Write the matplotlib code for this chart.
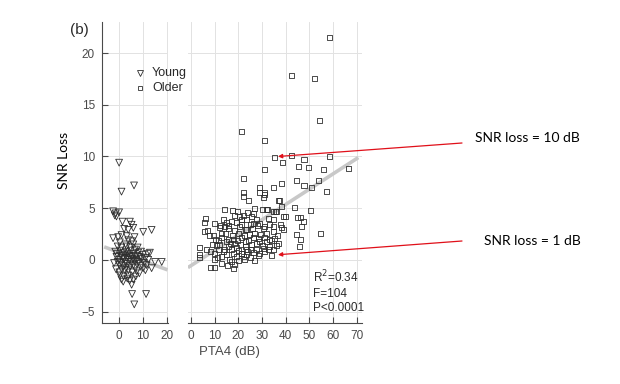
import matplotlib
matplotlib.use("Agg")
import matplotlib.pyplot as plt

plt.rcParams["font.family"] = ["Liberation Sans", "DejaVu Sans"]

# Young listeners (left panel)
young_pta = [0.1, 1.1, 6.3, -2.4, -1.3, 0.1, -1.0, -1.7, 1.5, 4.6, 5.3, 3.9, 6.0,
             10.1, 13.6, -2.4, -0.3, 1.1, 0.4, 3.9, 3.2, 6.0, 6.7,
             12.9, 12.2, 15.0, 17.8, 13.6, 1.1, 1.8, 6.0, 5.3, 5.5, 11.3, 6.4,
             10.1, 7.4, 3.9, 0.4, 2.5,
             -1.5, -1.0, -0.5, -0.8, 0.0, 0.3, 0.5, 0.8, 1.0, 1.2, 1.5, 1.8, 2.0, 2.2,
             2.5, 2.7, 3.0, 3.0, 3.3, 3.5, 3.8, 4.0, 4.2, 4.5, 4.7, 5.0, 5.0, 5.3, 5.5,
             5.8, 6.0, 6.2, 6.5, 6.8, 7.0, 7.3, 7.5, 8.0, 8.3, 8.7, 9.0, 9.5, 10.0,
             10.5, 11.0, 11.5, -2.0, -1.2, 0.2, 2.0, 3.5, 4.5, 7.0, 8.5, 1.0, 2.8, 4.8,
             5.5, -0.5, 7.8, 9.2, 12.0, 11.0, 3.3, 2.2, 6.5]
young_snr = [9.4, 6.6, 7.2, 4.7, 4.5, 4.6, 4.2, 4.3, 3.7, 3.7, 3.4, 2.9, 3.1,
             2.7, 2.9, 2.1, 2.2, 2.4, 1.7, 1.9, 1.3, 1.5, 1.0,
             0.7, 0.0, -0.2, -0.2, -0.8, -1.9, -2.1, -1.9, -2.4, -3.3, -3.3, -4.3,
             -0.8, -1.1, -1.5, -1.5, -1.0,
             0.8, 0.3, -0.2, 0.6, 0.0, -0.5, 0.9, 0.4, -0.3, -0.9, 0.2, 0.7, -0.6, 0.1,
             0.5, -0.2, 0.8, -0.8, 0.2, -0.4, 0.6, -1.0, 0.0, 0.4, -0.6, 0.9, -0.2, 0.3, -1.2,
             0.1, -0.5, 0.6, -0.1, -0.8, 0.4, 0.0, -0.4, 0.7, -0.2, 0.3, -0.6, 0.1, 0.5,
             -0.3, 0.2, -0.5, -0.3, -0.9, -1.2, -1.6, -1.8, -2.0, -1.6, -1.3, 1.2, 1.5, 1.2,
             1.8, 1.3, 1.2, 0.8, 0.6, -1.0, 2.3, 3.0, 2.2]

# Older listeners (right panel)
older_pta = [58.4, 42.3, 52.2, 54.1, 21.5, 30.9,
             35.4, 42.3, 58.5, 38.5, 47.7, 45.4, 49.7, 56.1, 66.7, 31.1,
             22.1, 38.4, 44.6, 47.7, 54.0, 50.9, 57.1, 34.7,
             22.1, 22.2, 24.1, 29.1, 29.1, 30.9, 30.5,
             37.3, 38.4, 43.6, 50.3, 14.1, 30.0, 32.4, 35.6, 34.7, 39.8, 44.9, 46.4, 47.4, 46.5,
             5.9, 5.6, 5.6, 7.7, 9.4, 54.6, 44.6, 46.3, 45.7, 33.9,
             3.4, 3.4, 3.4, 8.4, 9.7, 17.9, 9.7,
             19.8, 18.4, 20.5, 13.5, 14.9, 17.0, 12.1, 14.2, 15.6, 12.8,
             11.4, 10.7, 11.7, 10.0, 12.8, 13.5, 15.6, 17.0, 18.4, 19.8, 21.2, 22.6,
             16.3, 19.1, 21.2, 23.3, 22.6,
             26.3, 25.6, 27.7, 31.9, 32.6, 34.7, 38.9,
             22.1, 23.5, 21.4, 24.9, 22.8, 29.1, 31.2, 33.3, 34.7, 37.6, 38.3, 38.9, 34.7,
             24.2, 26.3, 28.4, 29.1, 31.2, 31.9, 34.1, 35.4, 36.2, 33.3, 30.5, 27.7, 24.9,
             22.8, 21.4, 23.5, 29.1, 31.2, 36.8, 36.2,
             10.5, 12.0, 13.0, 14.0, 14.5, 15.0, 16.0, 16.5, 17.5, 18.0, 18.5, 19.0, 20.0,
             20.0, 20.5, 21.0, 22.0, 23.0, 23.5, 24.0, 24.5, 25.5, 26.0, 26.5, 27.0, 27.5,
             28.0, 28.5, 29.5, 30.0, 30.5, 31.0, 32.0, 32.5, 33.0, 35.0, 36.5, 37.0, 11.0,
             13.0, 15.5, 17.0, 18.5, 20.0, 25.0, 27.0, 12.5, 16.0, 17.5, 19.0, 21.5, 24.0,
             26.5, 27.0, 18.0, 15.0, 9.0, 8.0, 6.5, 10.0, 7.0]
older_snr = [21.5, 17.8, 17.5, 13.5, 12.4, 11.5,
             9.9, 10.1, 10.0, 9.4, 9.7, 9.0, 8.9, 8.7, 8.8, 8.7,
             7.9, 7.4, 7.7, 7.2, 7.7, 7.0, 6.6, 7.0,
             6.5, 6.1, 5.7, 7.0, 6.5, 6.5, 6.0,
             5.7, 5.2, 5.1, 4.8, 4.9, 4.9, 4.9, 4.7, 4.7, 4.2, 4.1, 4.1, 3.7, 3.2,
             4.0, 3.6, 2.7, 2.4, 2.4, 2.6, 2.5, 2.0, 1.3, 0.4,
             1.2, 0.55, 0.26, -0.7, -0.7, -0.8, 0.0,
             4.7, 4.3, 4.2, 3.9, 3.6, 3.7, 3.1, 3.2, 3.0, 2.6,
             1.9, 1.4, 1.0, 0.6, 0.3, 0.8, 1.3, 1.0, 1.6, 1.9, 2.2, 2.4,
             0.0, 0.3, 0.6, 1.0, 0.0,
             4.5, 4.2, 3.9, 4.9, 4.0, 3.9, 4.2,
             4.3, 3.9, 3.4, 3.4, 2.9, 3.5, 3.2, 3.4, 3.2, 3.4, 3.1, 2.9, 2.7,
             1.9, 2.2, 2.1, 1.8, 2.2, 1.8, 1.9, 2.1, 1.4, 1.3, 1.1, 1.0, 1.0,
             1.3, 0.6, 0.5, 0.6, 6.3, 5.7, 4.7,
             2.0, 1.5, 2.2, 1.0, 2.6, 0.5, 2.0, 1.6, 2.4, 0.6, 2.8, 1.2, 0.9,
             2.6, 3.2, 1.5, 0.3, 1.8, 2.9, 0.8, 2.5, 1.5, 3.0, 0.7, 2.6, 1.6,
             3.3, 0.4, 2.5, 1.4, 3.0, 0.8, 2.6, 1.0, 2.0, 1.0, 2.4, 1.6, 0.2,
             -0.3, -0.5, -0.2, -0.4, -0.1, 0.2, -0.1, 3.3, 3.3, 4.8, 3.6, 3.9, 4.6,
             3.5, 5.0, 2.0, 1.8, 1.5, 0.8, 1.0, 3.5, 2.8]

# regression fits (end points)
young_fit_x = [-5.4, 19.5]
young_fit_y = [1.2, -0.9]
older_fit_x = [-0.7, 70.0]
older_fit_y = [-0.65, 9.8]

stats_text = "R$^2$=0.34\nF=104\nP<0.0001"

W, H = 620, 384
fig = plt.figure(figsize=(W / 100, H / 100), dpi=100)
fig.patch.set_facecolor("white")

ax1 = fig.add_axes([102 / W, 1 - 323 / H, 66 / W, 301 / H])
ax2 = fig.add_axes([188 / W, 1 - 323 / H, 174 / W, 301 / H])

tick_col = "#4a4a4a"
spine_col = "#4a4a4a"
grid_col = "#e2e2e2"

for ax in (ax1, ax2):
    ax.set_ylim(-6.1, 23)
    ax.set_yticks(range(-5, 21, 5))
    ax.grid(True, color=grid_col, linewidth=0.7)
    ax.set_axisbelow(True)
    for side in ("top", "right"):
        ax.spines[side].set_visible(False)
    ax.spines["bottom"].set_color(spine_col)
    ax.spines["left"].set_color(spine_col)
    ax.tick_params(direction="in", length=4, width=0.8, color=spine_col,
                   labelsize=8.5, labelcolor=tick_col, pad=5)

ax1.set_xlim(-7, 20.4)
ax1.set_xticks([0, 10, 20])
ax2.set_xlim(-1.3, 72.2)
ax2.set_xticks(range(0, 71, 10))
ax2.spines["left"].set_visible(False)
ax2.tick_params(axis="y", left=False, labelleft=False)

ax1.plot(young_fit_x, young_fit_y, color="#c8c8c8", linewidth=2.6, zorder=1)
ax2.plot(older_fit_x, older_fit_y, color="#c8c8c8", linewidth=2.6, zorder=1)

ax1.scatter(young_pta, young_snr, marker="v", s=24, facecolors="none",
            edgecolors="#2e2e2e", linewidths=0.6, zorder=2)
ax2.scatter(older_pta, older_snr, marker="s", s=13, facecolors="none",
            edgecolors="#2e2e2e", linewidths=0.6, zorder=2)

# legend (spans both panels)
fig.lines.append(plt.Line2D([140 / W], [1 - 73 / H], marker="v", markersize=4.5,
                            markerfacecolor="none", markeredgecolor="#2e2e2e",
                            markeredgewidth=0.6, linestyle="none",
                            transform=fig.transFigure))
fig.lines.append(plt.Line2D([140 / W], [1 - 88 / H], marker="s", markersize=3.5,
                            markerfacecolor="none", markeredgecolor="#2e2e2e",
                            markeredgewidth=0.6, linestyle="none",
                            transform=fig.transFigure))
fig.text(152 / W, 1 - 73 / H, "Young", fontsize=9, color="#2a2a2a", va="center")
fig.text(152 / W, 1 - 88 / H, "Older", fontsize=9, color="#2a2a2a", va="center")

ax2.text(0.72, 0.03, stats_text, transform=ax2.transAxes, fontsize=8.5,
         color="#2a2a2a", ha="left", va="bottom", linespacing=1.25)

fig.text(70 / W, 1 - 30 / H, "(b)", fontsize=11, color="#2a2a2a", va="center")
fig.text(229 / W, 1 - 352 / H, "PTA4 (dB)", fontsize=9.5, color="#4a4a4a",
         ha="center", va="center")
fig.text(64 / W, 1 - 160 / H, "SNR Loss", fontsize=10, rotation=90,
         family="Lato", ha="center", va="center", color="black")

# red arrows to the two highlighted listeners
ax2.annotate("", xy=(36.7, 10.0), xycoords="data",
             xytext=(462 / W, 1 - 143 / H), textcoords="figure fraction",
             arrowprops=dict(arrowstyle="-|>", color="#e0101a", lw=0.9,
                             mutation_scale=6, shrinkA=0, shrinkB=0))
ax2.annotate("", xy=(36.7, 0.5), xycoords="data",
             xytext=(462 / W, 1 - 241 / H), textcoords="figure fraction",
             arrowprops=dict(arrowstyle="-|>", color="#e0101a", lw=0.9,
                             mutation_scale=6, shrinkA=0, shrinkB=0))
fig.text(475 / W, 1 - 138 / H, "SNR loss = 10 dB", fontsize=10, family="Lato",
         va="center", color="black")
fig.text(484 / W, 1 - 241 / H, "SNR loss = 1 dB", fontsize=10, family="Lato",
         va="center", color="black")

fig.savefig("out.png", dpi=100, facecolor="white")
